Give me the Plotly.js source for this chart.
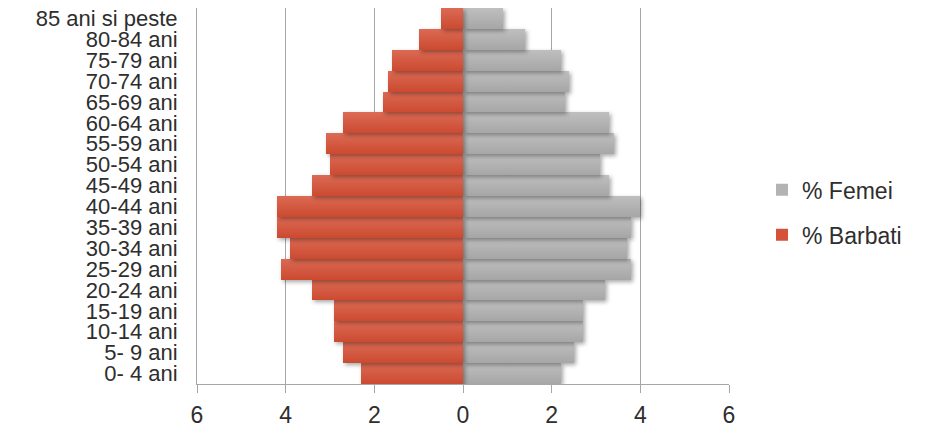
<!DOCTYPE html>
<html>
<head>
<meta charset="utf-8">
<script src="https://cdn.plot.ly/plotly-3.0.1.min.js"></script>
<style>
html,body{margin:0;padding:0;background:#fff;}
#chart{width:927px;height:429px;}
.trace.bars .point path{filter:drop-shadow(2px 2px 2px rgba(0,0,0,0.35));}
</style>
</head>
<body>
<div id="chart"></div>
<script>
const categories = ["0- 4 ani","5- 9 ani","10-14 ani","15-19 ani","20-24 ani","25-29 ani","30-34 ani","35-39 ani","40-44 ani","45-49 ani","50-54 ani","55-59 ani","60-64 ani","65-69 ani","70-74 ani","75-79 ani","80-84 ani","85 ani si peste"];
const barbati = [2.3,2.7,2.9,2.9,3.4,4.1,3.9,4.2,4.2,3.4,3.0,3.1,2.7,1.8,1.7,1.6,1.0,0.5];
const femei = [2.2,2.5,2.7,2.7,3.2,3.8,3.7,3.8,4.0,3.3,3.1,3.4,3.3,2.3,2.4,2.2,1.4,0.9];
const tickVals = [-6,-4,-2,0,2,4,6];
const tickText = ["6","4","2","0","2","4","6"];

const font = {family: "Arial, 'Liberation Sans', sans-serif", color: "#2e2e2e"};

const traces = [
  {
    type: "bar", orientation: "h", name: "% Femei",
    y: categories, x: femei,
    marker: {color: "#b3b3b3", line: {width: 0}},
    legendgroup: "f", hoverinfo: "skip"
  },
  {
    type: "bar", orientation: "h", name: "% Barbati",
    y: categories, x: barbati.map(v => -v),
    marker: {color: "#d5523a", line: {width: 0}},
    legendgroup: "b", hoverinfo: "skip"
  }
];

const layout = {
  width: 927, height: 429,
  margin: {l: 197, r: 198, t: 8, b: 45, pad: 0},
  paper_bgcolor: "#ffffff", plot_bgcolor: "#ffffff",
  barmode: "relative", bargap: 0,
  font: Object.assign({size: 23}, font),
  showlegend: true,
  legend: {
    xref: "container", yref: "container",
    x: 0.822, y: 0.505, xanchor: "left", yanchor: "middle",
    traceorder: "grouped", tracegroupgap: 12,
    font: Object.assign({size: 23}, font),
    itemwidth: 30, bgcolor: "rgba(0,0,0,0)"
  },
  xaxis: {
    range: [-6, 6], tickvals: tickVals, ticktext: tickText,
    showgrid: true, gridcolor: "#a6a6a6", gridwidth: 1,
    zeroline: false, showline: true, linecolor: "#a6a6a6", linewidth: 1,
    ticks: "outside", ticklen: 8, tickcolor: "#a6a6a6", ticklabelstandoff: 2,
    tickfont: Object.assign({size: 23}, font), fixedrange: true
  },
  yaxis: {
    type: "category", categoryorder: "array", categoryarray: categories,
    tickmode: "array", tickvals: categories, ticktext: categories,
    showgrid: false, zeroline: false, showline: true, linecolor: "#a6a6a6", linewidth: 1,
    ticks: "", ticklabelstandoff: 14,
    tickfont: Object.assign({size: 22}, font), fixedrange: true
  }
};

function addGradients(gd) {
  const svg = gd.querySelector("svg.main-svg");
  if (!svg) return;
  let defs = svg.querySelector("defs");
  if (!defs) { defs = document.createElementNS("http://www.w3.org/2000/svg", "defs"); svg.insertBefore(defs, svg.firstChild); }
  const mk = (id, top, bot) => {
    if (defs.querySelector("#" + id)) return;
    const g = document.createElementNS("http://www.w3.org/2000/svg", "linearGradient");
    g.setAttribute("id", id); g.setAttribute("x1", "0"); g.setAttribute("y1", "0");
    g.setAttribute("x2", "0"); g.setAttribute("y2", "1");
    [[0, top], [1, bot]].forEach(([o, c]) => {
      const s = document.createElementNS("http://www.w3.org/2000/svg", "stop");
      s.setAttribute("offset", o); s.setAttribute("stop-color", c); g.appendChild(s);
    });
    defs.appendChild(g);
  };
  mk("gradF", "#bfbfbf", "#a6a6a6");
  mk("gradB", "#dc6a54", "#cb4a30");
  const barTraces = gd.querySelectorAll(".barlayer .trace.bars");
  barTraces.forEach((t, i) => {
    const id = i === 0 ? "gradF" : "gradB";
    t.querySelectorAll(".point path").forEach(p => { p.style.fill = "url(#" + id + ")"; });
  });
}

Plotly.newPlot("chart", traces, layout, {displayModeBar: false, staticPlot: true}).then(addGradients);
</script>
</body>
</html>
